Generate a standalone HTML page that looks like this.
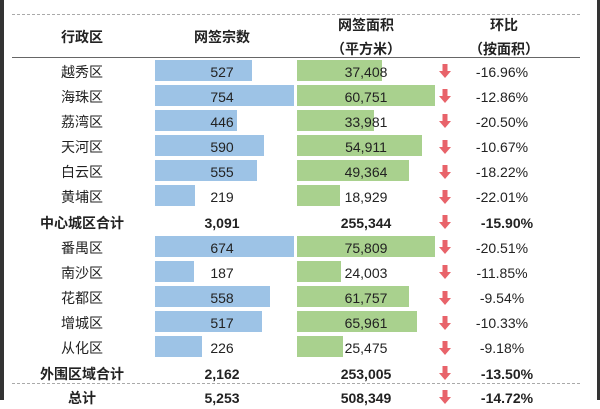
<!DOCTYPE html>
<html><head><meta charset="utf-8"><style>
body{margin:0;width:600px;height:400px;overflow:hidden;background:#fff;font-family:"Liberation Sans","Noto Sans CJK SC",sans-serif;position:relative}
.t{position:absolute;font-size:14px;line-height:1;color:#222;transform:translate(-50%,-50%);white-space:nowrap}
.b{font-weight:bold}
.bar{position:absolute;height:21px}
</style></head><body>
<div style="position:absolute;left:0;top:0;width:4px;height:400px;background:#333"></div>
<div style="position:absolute;right:0;top:0;width:3px;height:400px;background:#333"></div>
<div style="position:absolute;left:12px;width:568px;top:14px;border-top:1px dashed #aaa"></div>
<div style="position:absolute;left:12px;width:568px;top:57px;border-top:1px solid #666"></div>
<div style="position:absolute;left:12px;width:568px;top:383px;border-top:1px dashed #aaa"></div>
<div class="t b" style="left:82px;top:37px">行政区</div>
<div class="t b" style="left:222px;top:37px">网签宗数</div>
<div class="t b" style="left:366px;top:37px;line-height:24px;text-align:center">网签面积<br>（平方米）</div>
<div class="t b" style="left:504px;top:37px;line-height:24px;text-align:center">环比<br>（按面积）</div>
<div id="rows"></div>
<script>
const districts=["越秀区","海珠区","荔湾区","天河区","白云区","黄埔区","中心城区合计","番禺区","南沙区","花都区","增城区","从化区","外围区域合计","总计"];
const counts=[527,754,446,590,555,219,3091,674,187,558,517,226,2162,5253];
const areas=[37408,60751,33981,54911,49364,18929,255344,75809,24003,61757,65961,25475,253005,508349];
const changes=[-16.96,-12.86,-20.50,-10.67,-18.22,-22.01,-15.90,-20.51,-11.85,-9.54,-10.33,-9.18,-13.50,-14.72];
const isTotal=[0,0,0,0,0,0,1,0,0,0,0,0,1,1];
const group=[0,0,0,0,0,0,-1,1,1,1,1,1,-1,-1];
const root=document.getElementById('rows');
function fmt(n){return n.toLocaleString('en-US');}
const maxC=[0,0],maxA=[0,0];
group.forEach((g,i)=>{if(g>=0){maxC[g]=Math.max(maxC[g],counts[i]);maxA[g]=Math.max(maxA[g],areas[i]);}});
function yOf(i){return i<13?70+i*25.17:396;}
function add(cls,name,style,text){const d=document.createElement('div');d.className=cls;


d.style.cssText=style;if(text!==undefined)d.textContent=text;root.appendChild(d);return d;}
districts.forEach((name,i)=>{
 const y=yOf(i),b=isTotal[i]?' b':'',ty=y+1.5;
 const g=group[i];
 if(g>=0){
  add('bar','count-bar',`left:155px;top:${y-10.5}px;width:${139*counts[i]/maxC[g]}px;background:#9dc3e6`);
  add('bar','area-bar',`left:297px;top:${y-10.5}px;width:${138*areas[i]/maxA[g]}px;background:#a9d18e`);
 }
 add('t'+b,'district-label',`left:82px;top:${ty}px`,name);
 add('t'+b,'count-value',`left:222px;top:${ty}px`,fmt(counts[i]));
 add('t'+b,'area-value',`left:366px;top:${ty}px`,fmt(areas[i]));
 const a=document.createElement('div');
 
 
 a.style.cssText=`position:absolute;left:439px;top:${y-6}px;width:12px;height:14px`;
 a.innerHTML='<svg width="12" height="14"><path d="M3.5 0H8.5V7H12L6 14L0 7H3.5Z" fill="#e8636a"/></svg>';
 root.appendChild(a);
 add('t'+b,'change-value',`left:${isTotal[i]?507:502}px;top:${ty}px`,changes[i].toFixed(2)+'%');
});
</script>
</body></html>
